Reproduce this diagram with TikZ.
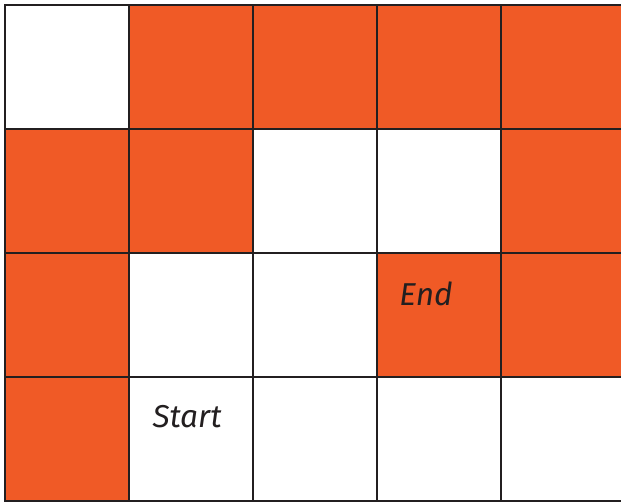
\documentclass[tikz,border=0pt]{standalone}
\usepackage{fontspec}
\setmainfont{Fira Sans}
\usepackage{xcolor}
\definecolor{cellorange}{RGB}{240,90,38}
\definecolor{gridline}{RGB}{35,31,32}

\begin{document}
\begin{tikzpicture}[font=\fontsize{18}{20}\selectfont\itshape,line cap=rect]
\useasboundingbox (0,0) rectangle (12.42,10.06);
\begin{scope}
\clip (0,0) rectangle (12.42,10.06);
\begin{scope}[shift={(0.1,0.04)},x=2.48cm,y=2.48cm]
\foreach \c/\r in {0/0,0/1,3/1,4/1,0/2,1/2,4/2,1/3,2/3,3/3,4/3}
  \fill[cellorange] (\c,\r) rectangle ++(1,1);
\foreach \c in {0,...,5}
  \draw[gridline,line width=1.1pt] (\c,0) -- (\c,4);
\foreach \r in {0,...,4}
  \draw[gridline,line width=1.1pt] (0,\r) -- (5,\r);
\node[gridline] (start) at (1.468,0.677) {Start};
\node[gridline] (end) at (3.395,1.669) {End};
\end{scope}
\end{scope}
\end{tikzpicture}
\end{document}
